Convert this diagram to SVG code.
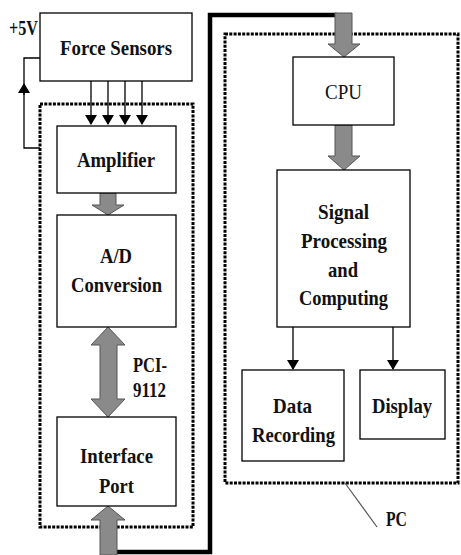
<svg xmlns="http://www.w3.org/2000/svg" width="461" height="555" viewBox="0 0 461 555">
<style>
.box{fill:#fff;stroke:#000;stroke-width:1.3}
.dot{fill:none;stroke:#000;stroke-width:3;stroke-dasharray:3 1.3}
.t{font-family:"Liberation Serif",serif;font-weight:bold;font-size:21px;text-anchor:middle;fill:#111}
.r{font-weight:normal}
.g{fill:#8a8a8a;stroke:#555;stroke-width:1}
.ln{fill:none;stroke:#000;stroke-width:1.3}
</style>
<defs>
<marker id="ah" markerWidth="10" markerHeight="12" refX="9" refY="6" orient="auto" markerUnits="userSpaceOnUse">
<path d="M0,0 L10,6 L0,12 z" fill="#000"/>
</marker>
</defs>
<g id="containers">
<rect class="dot" x="40" y="104" width="153" height="423"/>
<rect class="dot" x="225" y="34" width="233" height="449"/>
</g>
<g id="connectors">
<path d="M40,58 H24 V148 H40" class="ln"/>
<path d="M24,95 V84" class="ln" marker-end="url(#ah)"/>
<path d="M91,81 V124" class="ln" marker-end="url(#ah)"/>
<path d="M108,81 V124" class="ln" marker-end="url(#ah)"/>
<path d="M125,81 V124" class="ln" marker-end="url(#ah)"/>
<path d="M142,81 V124" class="ln" marker-end="url(#ah)"/>
<path d="M293,327 V369" class="ln" marker-end="url(#ah)"/>
<path d="M393,327 V369" class="ln" marker-end="url(#ah)"/>
<path d="M108,552 H210 V15 H337" fill="none" stroke="#000" stroke-width="4.5"/>
<polygon class="g" points="100,193 116,193 116,205 124,205 108,215 92,205 100,205"/>
<polygon class="g" points="108,327 125,345 117,345 117,399 125,399 108,417 91,399 100,399 100,345 91,345"/>
<polygon class="g" points="108,506 125,520 117,520 117,555 100,555 100,520 91,520"/>
<polygon class="g" points="335,13 352,13 352,44 360,44 344,57 328,44 335,44"/>
<polygon class="g" points="335,125 352,125 352,156 360,156 344,170 328,156 335,156"/>
<path d="M345,483 L377,527" stroke="#555" stroke-width="1.2"/>
</g>
<g id="force-sensors">
<rect class="box" x="40" y="13" width="152" height="68"/>
<text class="t" x="116" y="55" textLength="112" lengthAdjust="spacingAndGlyphs">Force Sensors</text>
</g>
<text class="t" x="23.5" y="35" textLength="29" lengthAdjust="spacingAndGlyphs">+5V</text>
<g id="amplifier">
<rect class="box" x="57" y="126" width="119" height="67"/>
<text class="t" x="116" y="167" textLength="78" lengthAdjust="spacingAndGlyphs">Amplifier</text>
</g>
<g id="ad">
<rect class="box" x="57" y="215" width="119" height="112"/>
<text class="t" x="116" y="263" textLength="32" lengthAdjust="spacingAndGlyphs">A/D</text>
<text class="t" x="116.5" y="292" textLength="91" lengthAdjust="spacingAndGlyphs">Conversion</text>
</g>
<text class="t" x="150" y="372" textLength="34" lengthAdjust="spacingAndGlyphs">PCI-</text>
<text class="t" x="149.5" y="397" textLength="33" lengthAdjust="spacingAndGlyphs">9112</text>
<g id="interface">
<rect class="box" x="57" y="417" width="119" height="89"/>
<text class="t" x="116.5" y="463" textLength="73" lengthAdjust="spacingAndGlyphs">Interface</text>
<text class="t" x="116.5" y="493" textLength="35" lengthAdjust="spacingAndGlyphs">Port</text>
</g>
<g id="cpu">
<rect class="box" x="293" y="57" width="101" height="68"/>
<text class="t r" x="343.5" y="99" textLength="37" lengthAdjust="spacingAndGlyphs">CPU</text>
</g>
<g id="signal">
<rect class="box" x="277" y="170" width="133" height="157"/>
<text class="t" x="343.5" y="219" textLength="51" lengthAdjust="spacingAndGlyphs">Signal</text>
<text class="t" x="344" y="248" textLength="86" lengthAdjust="spacingAndGlyphs">Processing</text>
<text class="t" x="343" y="277" textLength="30" lengthAdjust="spacingAndGlyphs">and</text>
<text class="t" x="343.5" y="305" textLength="89" lengthAdjust="spacingAndGlyphs">Computing</text>
</g>
<g id="data-recording">
<rect class="box" x="242" y="370" width="102" height="91"/>
<text class="t" x="292.5" y="413" textLength="39" lengthAdjust="spacingAndGlyphs">Data</text>
<text class="t" x="293.5" y="442" textLength="83" lengthAdjust="spacingAndGlyphs">Recording</text>
</g>
<g id="display">
<rect class="box" x="360" y="370" width="85" height="69"/>
<text class="t" x="402" y="413" textLength="60" lengthAdjust="spacingAndGlyphs">Display</text>
</g>
<text class="t" x="396.5" y="526" textLength="21" lengthAdjust="spacingAndGlyphs">PC</text>
</svg>
